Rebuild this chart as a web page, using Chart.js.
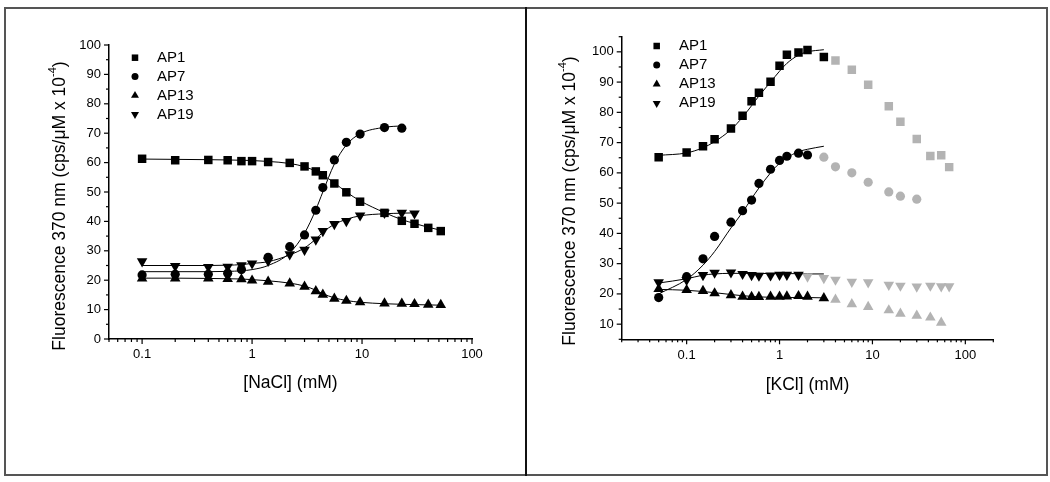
<!DOCTYPE html>
<html>
<head>
<meta charset="utf-8">
<script src="https://cdn.jsdelivr.net/npm/chart.js@4.4.1/dist/chart.umd.min.js"></script>
<style>
  body { margin: 0; background: #fff; width: 1050px; height: 482px; position: relative; overflow: hidden; }
  #frame { position: absolute; left: 4px; top: 7px; width: 1044px; height: 469px; border: 2px solid #555; box-sizing: border-box; }
  #divider { position: absolute; left: 525px; top: 7px; width: 2px; height: 469px; background: #111; }
  .box { position: absolute; top: 9px; width: 518px; height: 464px; }
</style>
</head>
<body>
<div id="frame"></div>
<div id="divider"></div>
<div class="box" style="left:6px"><canvas id="nacl-chart"></canvas></div>
<div class="box" style="left:528px"><canvas id="kcl-chart"></canvas></div>
<script>
// ---- data: left panel, [NaCl] titration ----
var naclX = [0.1, 0.2, 0.4, 0.6, 0.8, 1.0, 1.4, 2.2, 3.0, 3.8, 4.4, 5.6, 7.2, 9.6, 16, 23, 30, 40, 52];
var naclAP1 = [61.3, 60.8, 60.9, 60.8, 60.5, 60.5, 60.2, 59.9, 58.7, 57.0, 55.7, 52.9, 49.9, 46.7, 42.9, 40.2, 39.2, 37.8, 36.7];
var naclX_AP7 = [0.1, 0.2, 0.4, 0.6, 0.8, 1.4, 2.2, 3.0, 3.8, 4.4, 5.6, 7.2, 9.6, 16, 23];
var naclAP7 = [21.8, 22.0, 22.0, 22.4, 23.6, 27.8, 31.4, 35.4, 43.8, 51.5, 60.9, 66.9, 69.7, 71.9, 71.7];
var naclAP13 = [20.6, 20.6, 20.6, 20.4, 20.3, 19.9, 19.5, 18.9, 17.8, 16.3, 15.1, 13.7, 13.0, 12.5, 12.1, 12.0, 11.9, 11.7, 11.6];
var naclX_AP19 = [0.1, 0.2, 0.4, 0.6, 0.8, 1.0, 1.4, 2.2, 3.0, 3.8, 4.4, 5.6, 7.2, 9.6, 16, 23, 30];
var naclAP19 = [26.4, 24.8, 24.5, 24.6, 25.1, 25.7, 26.6, 28.8, 30.3, 33.8, 36.7, 39.1, 40.1, 42.0, 42.9, 42.9, 42.7];

// fitted curves
var naclFitAP1 = [61.2, 61.1, 61.0, 60.9, 60.8, 60.7, 60.4, 59.7, 58.6, 57.1, 55.8, 53.1, 50.0, 47.0, 43.0, 40.6, 39.3, 38.0, 37.0];
var naclFitX_AP7 = [0.1, 0.2, 0.4, 0.6, 0.8, 1.0, 1.4, 2.2, 3.0, 3.8, 4.4, 5.6, 7.2, 9.6, 16, 23];
var naclFitAP7 = [22.9, 22.9, 22.9, 23.0, 23.2, 23.6, 25.0, 29.3, 36.0, 44.0, 50.0, 59.5, 66.0, 69.8, 72.0, 72.5];
var naclFitAP13 = [20.7, 20.7, 20.6, 20.5, 20.4, 20.2, 19.8, 19.0, 18.0, 16.6, 15.4, 14.0, 13.1, 12.5, 12.0, 11.8, 11.7, 11.6, 11.5];
var naclFitAP19 = [25.0, 25.0, 25.0, 25.1, 25.3, 25.7, 26.3, 28.6, 31.0, 34.0, 36.3, 39.0, 40.7, 41.9, 42.6, 42.8, 42.9];

// ---- data: right panel, [KCl] titration ----
var kclX = [0.05, 0.1, 0.15, 0.2, 0.3, 0.4, 0.5, 0.6, 0.8, 1.0, 1.2, 1.6, 2, 3];
var kclAP1 = [65.2, 66.7, 68.8, 71.1, 74.7, 78.9, 83.7, 86.5, 90.1, 95.4, 99.0, 99.8, 100.6, 98.3];
var kclAP7 = [18.8, 25.7, 31.6, 39.0, 43.7, 47.5, 51.0, 56.5, 61.2, 64.1, 65.5, 66.5, 65.9];
var kclAP13 = [21.6, 21.3, 21.0, 20.2, 19.6, 19.1, 19.0, 19.0, 19.1, 19.1, 19.2, 19.3, 19.1, 18.6];
var kclAP19 = [23.8, 24.6, 26.2, 27.0, 27.1, 26.6, 26.2, 26.0, 26.1, 26.3, 26.3, 26.3];

// high-salt points (grey, not fitted)
var kclGreyX_AP1 = [4, 6, 9, 15, 20, 30, 42, 55, 67];
var kclGreyAP1 = [97.1, 94.1, 89.1, 82.0, 76.9, 71.2, 65.6, 65.8, 61.9];
var kclGreyX_AP7 = [3, 4, 6, 9, 15, 20, 30];
var kclGreyAP7 = [65.2, 62.0, 60.0, 56.9, 53.7, 52.3, 51.3];
var kclGreyX_AP13 = [4, 6, 9, 15, 20, 30, 42, 55];
var kclGreyAP13 = [18.1, 16.6, 15.7, 14.6, 13.5, 12.8, 12.2, 10.5];
var kclGreyX_AP19 = [2, 3, 4, 6, 9, 15, 20, 30, 42, 55, 67];
var kclGreyAP19 = [25.7, 25.2, 24.7, 24.0, 23.8, 23.0, 22.7, 22.4, 22.7, 22.5, 22.5];

var kclFitAP1 = [65.8, 66.6, 68.3, 70.3, 74.3, 78.4, 82.2, 85.4, 90.0, 93.6, 96.2, 98.9, 100.0, 100.7];
var kclFitAP7 = [20.0, 24.8, 29.5, 34.0, 41.8, 47.0, 51.5, 55.0, 60.0, 63.2, 65.0, 67.0, 67.8, 68.8];
var kclFitAP13 = [21.5, 21.2, 20.8, 20.4, 19.8, 19.4, 19.2, 19.0, 18.9, 18.9, 18.8, 18.8, 18.8, 18.7];
var kclFitAP19 = [23.6, 25.0, 26.2, 26.6, 26.8, 26.8, 26.8, 26.8, 26.7, 26.7, 26.7, 26.7, 26.6, 26.6];

var seriesNames = ['AP1', 'AP7', 'AP13', 'AP19'];
var seriesShapes = ['rect', 'circle', 'triangle', 'down'];
var xTickValues = [0.1, 1, 10, 100];
var naclYTicks = [0, 10, 20, 30, 40, 50, 60, 70, 80, 90, 100];
var kclYTicks = [10, 20, 30, 40, 50, 60, 70, 80, 90, 100];

var FONT = "'Liberation Sans', Arial, Helvetica, sans-serif";
var GREY = '#b3b3b3';
var RADIUS = { rect: 6.0, circle: 4.6, triangle: 6.1, down: 6.1 };
var LEGEND_RADIUS = { rect: 4.6, circle: 3.5, triangle: 4.6, down: 4.6 };

function pts(xs, ys) {
    return ys.map(function (y, i) { return { x: xs[i], y: y }; });
}

function markers(xs, ys, shape, color) {
    return {
        data: pts(xs, ys),
        showLine: false,
        pointStyle: shape === 'down' ? 'triangle' : shape,
        rotation: shape === 'down' ? 180 : 0,
        pointRadius: RADIUS[shape],
        pointBackgroundColor: color,
        pointBorderWidth: 0,
        order: 0
    };
}

function fitLine(xs, ys) {
    return {
        data: pts(xs, ys),
        showLine: true,
        borderColor: '#000',
        borderWidth: 1,
        pointRadius: 0,
        cubicInterpolationMode: 'monotone',
        fill: false,
        order: 1
    };
}

function drawShape(ctx, shape, x, y, r) {
    ctx.beginPath();
    if (shape === 'rect') {
        var s = r * Math.SQRT1_2;
        ctx.rect(x - s, y - s, 2 * s, 2 * s);
    } else if (shape === 'circle') {
        ctx.arc(x, y, r, 0, Math.PI * 2);
    } else {
        var d = shape === 'down' ? -1 : 1;
        ctx.moveTo(x, y - d * r);
        ctx.lineTo(x + r * 0.866, y + d * r / 2);
        ctx.lineTo(x - r * 0.866, y + d * r / 2);
    }
    ctx.closePath();
    ctx.fill();
}

// minor/major tick marks, legend and the y title with its superscript
var panelPlugin = {
    id: 'panel',
    afterDraw: function (chart, args, opts) {
        var ctx = chart.ctx;
        var xs = chart.scales.x, ys = chart.scales.y;
        ctx.save();
        ctx.strokeStyle = '#000';
        ctx.lineWidth = 1.2;
        for (var e = -2; e <= 2; e++) {
            for (var m = 1; m <= 9; m++) {
                var v = m * Math.pow(10, e);
                if (v < xs.min * 0.999 || v > xs.max * 1.001) continue;
                var px = xs.getPixelForValue(v);
                ctx.beginPath();
                ctx.moveTo(px, ys.bottom);
                ctx.lineTo(px, ys.bottom + (m === 1 ? 5 : 3));
                ctx.stroke();
            }
        }
        for (var t = ys.min; t <= ys.max; t += 5) {
            var py = ys.getPixelForValue(t);
            ctx.beginPath();
            ctx.moveTo(xs.left, py);
            ctx.lineTo(xs.left - (t % 10 === 0 ? 5 : 3), py);
            ctx.stroke();
        }

        // legend
        ctx.fillStyle = '#000';
        ctx.font = '15px ' + FONT;
        ctx.textBaseline = 'middle';
        ctx.textAlign = 'left';
        seriesNames.forEach(function (name, i) {
            var ly = opts.legendY + i * opts.legendStep;
            drawShape(ctx, seriesShapes[i], opts.legendX, ly, LEGEND_RADIUS[seriesShapes[i]]);
            ctx.fillText(name, opts.legendTextX, ly);
        });

        // y axis title
        var main = 'Fluorescence 370 nm (cps/\u03BCM x 10';
        var sup = '-4';
        var tail = ')';
        var big = '17.5px ' + FONT, small = '11px ' + FONT;
        ctx.font = big;
        var w1 = ctx.measureText(main).width, w3 = ctx.measureText(tail).width;
        ctx.font = small;
        var w2 = ctx.measureText(sup).width;
        var total = w1 + w2 + w3;
        ctx.translate(opts.titleX, opts.titleY);
        ctx.rotate(-Math.PI / 2);
        ctx.textBaseline = 'middle';
        ctx.font = big;
        ctx.fillText(main, -total / 2, 0);
        ctx.font = small;
        ctx.fillText(sup, -total / 2 + w1, -7);
        ctx.font = big;
        ctx.fillText(tail, -total / 2 + w1 + w2, 0);
        ctx.restore();
    }
};

function makeChart(canvasId, datasets, cfg) {
    var canvas = document.getElementById(canvasId);
    return new Chart(canvas.getContext('2d'), {
        type: 'scatter',
        data: { datasets: datasets },
        plugins: [panelPlugin],
        options: {
            responsive: true,
            maintainAspectRatio: false,
            animation: false,
            events: [],
            layout: { padding: { top: cfg.top, right: cfg.right, bottom: cfg.bottom, left: 0 } },
            plugins: {
                legend: { display: false },
                tooltip: { enabled: false },
                panel: cfg.panel
            },
            scales: {
                x: {
                    type: 'logarithmic',
                    min: cfg.xMin,
                    max: cfg.xMax,
                    afterBuildTicks: function (scale) {
                        scale.ticks = xTickValues.map(function (v) { return { value: v }; });
                    },
                    afterFit: function (scale) { scale.height = 70; },
                    grid: { display: false, drawTicks: false },
                    border: { display: true, color: '#000', width: 1.5 },
                    ticks: {
                        color: '#000',
                        font: { family: FONT, size: 13 },
                        padding: 8,
                        maxRotation: 0,
                        autoSkip: false,
                        callback: function (v) { return String(v); }
                    },
                    title: {
                        display: true,
                        text: cfg.xTitle,
                        color: '#000',
                        font: { family: FONT, size: 17.5 },
                        padding: { top: 0, bottom: cfg.xTitlePad }
                    }
                },
                y: {
                    type: 'linear',
                    min: cfg.yMin,
                    max: cfg.yMax,
                    afterBuildTicks: function (scale) {
                        scale.ticks = cfg.yTicks.map(function (v) { return { value: v }; });
                    },
                    afterFit: function (scale) { scale.width = cfg.yWidth; },
                    grid: { display: false, drawTicks: false },
                    border: { display: true, color: '#000', width: 1.5 },
                    ticks: {
                        color: '#000',
                        font: { family: FONT, size: 13 },
                        padding: 8
                    }
                }
            }
        }
    });
}

var naclSets = [
    markers(naclX, naclAP1, 'rect', '#000'),
    markers(naclX_AP7, naclAP7, 'circle', '#000'),
    markers(naclX, naclAP13, 'triangle', '#000'),
    markers(naclX_AP19, naclAP19, 'down', '#000'),
    fitLine(naclX, naclFitAP1),
    fitLine(naclFitX_AP7, naclFitAP7),
    fitLine(naclX, naclFitAP13),
    fitLine(naclX_AP19, naclFitAP19)
];

var kclSets = [
    markers(kclX, kclAP1, 'rect', '#000'),
    markers(kclX, kclAP7, 'circle', '#000'),
    markers(kclX, kclAP13, 'triangle', '#000'),
    markers(kclX, kclAP19, 'down', '#000'),
    markers(kclGreyX_AP1, kclGreyAP1, 'rect', GREY),
    markers(kclGreyX_AP7, kclGreyAP7, 'circle', GREY),
    markers(kclGreyX_AP13, kclGreyAP13, 'triangle', GREY),
    markers(kclGreyX_AP19, kclGreyAP19, 'down', GREY),
    fitLine(kclX, kclFitAP1),
    fitLine(kclX, kclFitAP7),
    fitLine(kclX, kclFitAP13),
    fitLine(kclX, kclFitAP19)
];

makeChart('nacl-chart', naclSets, {
    top: 36, right: 52, bottom: 64, yWidth: 103,
    xMin: 0.05, xMax: 100, yMin: 0, yMax: 100, yTicks: naclYTicks,
    xTitle: '[NaCl] (mM)', xTitlePad: 15.8,
    panel: { legendX: 129, legendTextX: 151, legendY: 48.7, legendStep: 18.9, titleX: 54, titleY: 197 }
});

makeChart('kcl-chart', kclSets, {
    top: 27.7, right: 52.7, bottom: 63.7, yWidth: 93.7,
    xMin: 0.02, xMax: 200, yMin: 5, yMax: 105, yTicks: kclYTicks,
    xTitle: '[KCl] (mM)', xTitlePad: 13.8,
    panel: { legendX: 128.7, legendTextX: 151, legendY: 37, legendStep: 19.1, titleX: 42, titleY: 192 }
});
</script>
</body>
</html>
